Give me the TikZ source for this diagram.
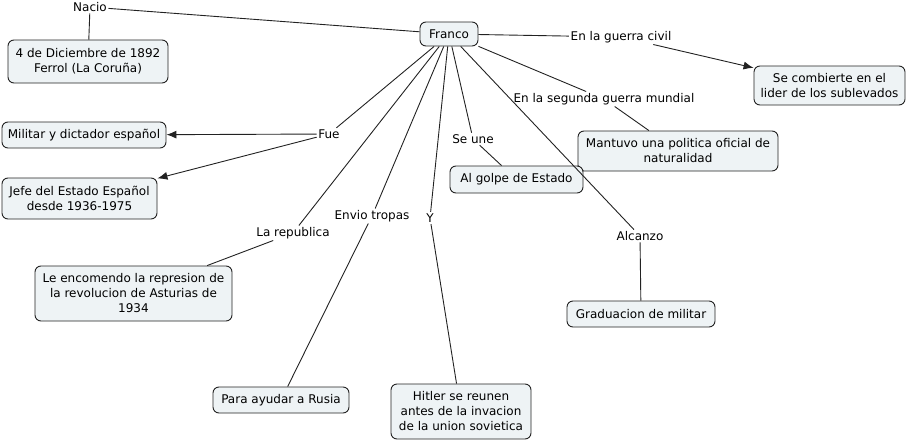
\documentclass[tikz,border=0pt]{standalone}
\usepackage{fontspec}
\setmainfont{DejaVu Sans}
\usetikzlibrary{arrows.meta}
\definecolor{boxfill}{HTML}{EEF3F5}
\definecolor{linec}{HTML}{222222}
\tikzset{
  cbox/.style={draw=linec, line width=0.9pt, rounded corners=6pt, fill=boxfill, align=center, inner sep=2pt, font=\fontsize{12}{15}\selectfont},
  clabel/.style={inner sep=1.5pt, align=center, font=\fontsize{12}{15}\selectfont},
  conn/.style={draw=linec, line width=0.9pt},
  arr/.style={conn, -{Latex[length=10pt,width=8pt]}}
}
\begin{document}
\begin{tikzpicture}[x=1pt,y=-1pt]
\useasboundingbox (0,0) rectangle (910,442);
% concepts
\node[cbox, minimum width=58pt, minimum height=24pt] (franco) at (449,34) {Franco};
\node[cbox, minimum width=160pt, minimum height=43pt] (date) at (88,61.5) {4 de Diciembre de 1892\\Ferrol (La Coruña)};
\node[cbox, minimum width=151pt, minimum height=39pt] (comb) at (829.5,85.5) {Se combierte en el\\lider de los sublevados};
\node[cbox, minimum width=200pt, minimum height=40pt] (mant) at (678,151) {Mantuvo una politica oficial de\\naturalidad};
\node[cbox, minimum width=133pt, minimum height=27pt] (golpe) at (516.5,179.5) {Al golpe de Estado};
\node[cbox, minimum width=148pt, minimum height=26pt] (grad) at (641,314) {Graduacion de militar};
\node[cbox, minimum width=140pt, minimum height=55pt] (hitler) at (461,411.5) {Hitler se reunen\\antes de la invacion\\de la union sovietica};
\node[cbox, minimum width=136pt, minimum height=26pt] (rusia) at (281,400) {Para ayudar a Rusia};
\node[cbox, minimum width=197pt, minimum height=55pt] (asturias) at (133.5,293.5) {Le encomendo la represion de\\la revolucion de Asturias de\\1934};
\node[cbox, minimum width=164pt, minimum height=26pt] (militar) at (84,135) {Militar y dictador español};
\node[cbox, minimum width=155pt, minimum height=41pt] (jefe) at (79.5,198.5) {Jefe del Estado Español\\desde 1936-1975};
% linking phrases
\node[clabel] (nacio) at (90,7) {Nacio};
\node[clabel] (civil) at (621,37) {En la guerra civil};
\node[clabel] (mundial) at (604,99) {En la segunda guerra mundial};
\node[clabel] (seune) at (473,139) {Se une};
\node[clabel] (alcanzo) at (640,236) {Alcanzo};
\node[clabel] (y) at (430,218) {Y};
\node[clabel] (envio) at (372,216) {Envio tropas};
\node[clabel] (republica) at (293,233) {La republica};
\node[clabel] (fue) at (329,134) {Fue};
% connectors
\draw[conn] (franco) -- (nacio);
\draw[conn] (nacio) -- (date);
\draw[conn] (franco) -- (civil);
\draw[arr] (civil) -- (comb);
\draw[conn] (franco) -- (mundial);
\draw[conn] (mundial) -- (mant);
\draw[conn] (franco) -- (seune);
\draw[conn] (seune) -- (golpe);
\draw[conn] (franco) -- (alcanzo);
\draw[conn] (alcanzo) -- (grad);
\draw[conn] (franco) -- (y);
\draw[conn] (y) -- (hitler);
\draw[conn] (franco) -- (envio);
\draw[conn] (envio) -- (rusia);
\draw[conn] (franco) -- (republica);
\draw[conn] (republica) -- (asturias);
\draw[conn] (franco) -- (fue);
\draw[arr] (fue) -- (militar);
\draw[arr] (fue) -- (jefe);
\end{tikzpicture}
\end{document}
